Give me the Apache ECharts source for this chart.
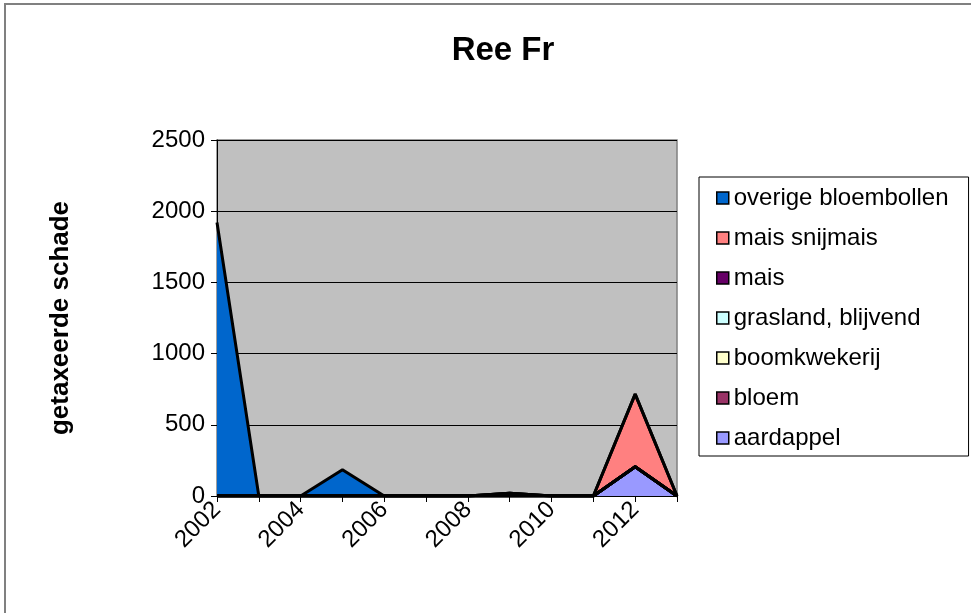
<!DOCTYPE html>
<html>
<head>
<meta charset="utf-8">
<script src="https://cdn.jsdelivr.net/npm/echarts@6/dist/echarts.min.js"></script>
<style>
* { margin: 0; padding: 0; }
body { background: #fff; }
#main { width: 971px; height: 613px; }
</style>
</head>
<body>
<div id="main"></div>
<script>
// jaren en waarden
var years = ['2002', '2003', '2004', '2005', '2006', '2007', '2008', '2009', '2010', '2011', '2012', '2013'];
var aardappel = [0, 0, 0, 0, 0, 0, 0, 0, 0, 0, 205, 0];
var bloem = [0, 0, 0, 0, 0, 0, 0, 0, 0, 0, 0, 0];
var boomkwekerij = [0, 0, 0, 0, 0, 0, 0, 0, 0, 0, 0, 0];
var grasland = [0, 0, 0, 0, 0, 0, 0, 0, 0, 0, 0, 0];
var mais = [0, 0, 0, 0, 0, 0, 0, 20, 0, 0, 0, 0];
var maisSnijmais = [0, 0, 0, 0, 0, 0, 0, 0, 0, 0, 510, 0];
var overigeBloembollen = [1920, 0, 0, 185, 0, 0, 0, 0, 0, 0, 0, 0];
var yTicks = [0, 500, 1000, 1500, 2000, 2500];

var legendOrder = ['overige bloembollen', 'mais snijmais', 'mais', 'grasland, blijvend', 'boomkwekerij', 'bloem', 'aardappel'];

function area(name, data, color) {
  return {
    name: name,
    type: 'line',
    stack: 'totaal',
    data: data,
    showSymbol: false,
    symbol: 'none',
    color: color,
    lineStyle: { color: '#000', width: 3 },
    itemStyle: { color: color, borderColor: '#000', borderWidth: 1.5 },
    areaStyle: { color: color, opacity: 1 }
  };
}

var chart = echarts.init(document.getElementById('main'));
chart.setOption({
  animation: false,
  backgroundColor: '#fff',
  textStyle: { fontFamily: 'Arial, "Liberation Sans", sans-serif' },
  title: {
    text: 'Ree Fr',
    left: 498,
    textAlign: 'center',
    top: 29,
    textStyle: { fontSize: 33, fontWeight: 'bold', color: '#000' }
  },
  graphic: [{
    type: 'rect',
    shape: { x: 5, y: 4, width: 990, height: 640 },
    style: { fill: 'none', stroke: '#808080', lineWidth: 2 },
    silent: true
  }],
  legend: {
    data: legendOrder,
    orient: 'vertical',
    left: 699,
    top: 177,
    icon: 'rect',
    itemWidth: 12,
    itemHeight: 12,
    itemGap: 16,
    padding: [9, 20, 6, 17],
    borderColor: '#000',
    borderWidth: 1,
    itemStyle: { borderColor: '#000', borderWidth: 1.5 },
    textStyle: { fontSize: 24, color: '#000', lineHeight: 24 }
  },
  grid: {
    left: 217,
    right: 294,
    top: 140,
    bottom: 117,
    show: true,
    backgroundColor: '#C0C0C0',
    borderColor: '#808080',
    borderWidth: 1.5
  },
  xAxis: {
    type: 'category',
    boundaryGap: false,
    data: years,
    axisLine: { lineStyle: { color: '#000', width: 1 } },
    axisTick: { show: true, interval: 0, length: 6, lineStyle: { color: '#000' } },
    axisLabel: { interval: 1, rotate: 45, fontSize: 24, color: '#000', margin: 10 }
  },
  yAxis: {
    type: 'value',
    min: yTicks[0],
    max: yTicks[yTicks.length - 1],
    interval: 500,
    name: 'getaxeerde schade',
    nameLocation: 'middle',
    nameRotate: 90,
    nameGap: 143,
    nameTextStyle: { fontSize: 26, fontWeight: 'bold', color: '#000' },
    axisLine: { show: true, lineStyle: { color: '#000', width: 1 } },
    axisTick: { show: true, length: 6, lineStyle: { color: '#000' } },
    axisLabel: { fontSize: 24, color: '#000', margin: 12, formatter: function (v) { return String(v); } },
    splitLine: { show: true, lineStyle: { color: '#000', width: 1 } }
  },
  series: [
    area('aardappel', aardappel, '#9999FF'),
    area('bloem', bloem, '#993366'),
    area('boomkwekerij', boomkwekerij, '#FFFFCC'),
    area('grasland, blijvend', grasland, '#CCFFFF'),
    area('mais', mais, '#660066'),
    area('mais snijmais', maisSnijmais, '#FF8080'),
    area('overige bloembollen', overigeBloembollen, '#0066CC')
  ]
});
</script>
</body>
</html>
